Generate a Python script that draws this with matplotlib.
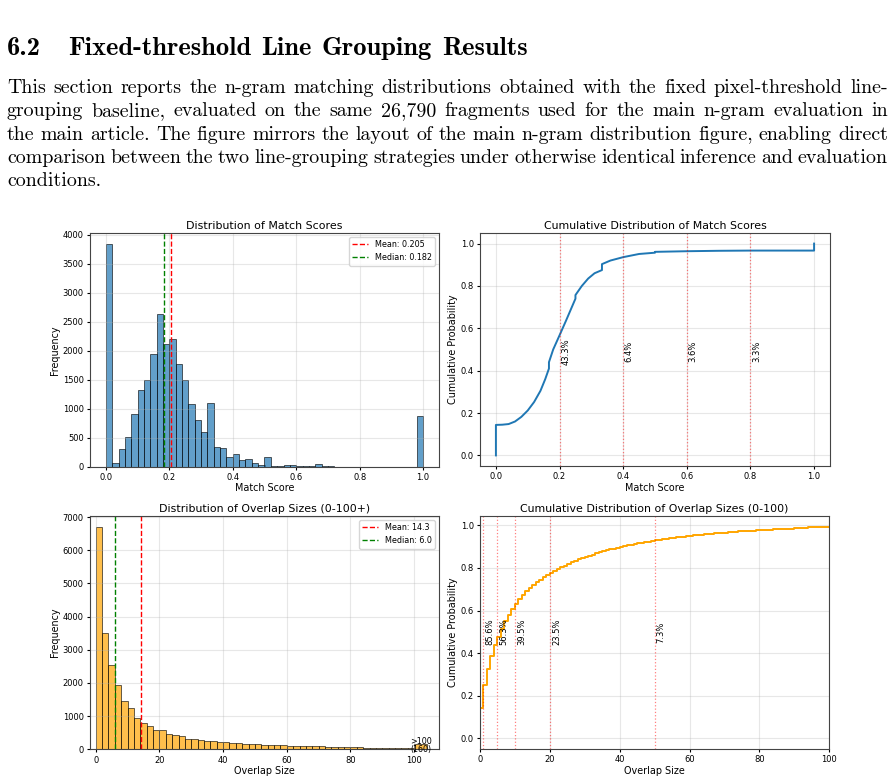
import numpy as np
import matplotlib.pyplot as plt

# page text above the figure
heading_number = '6.2'
heading_text = 'Fixed-threshold Line Grouping Results'
paragraph_lines = [
    'This section reports the n-gram matching distributions obtained with the fixed pixel-threshold line-',
    'grouping baseline, evaluated on the same 26,790 fragments used for the main n-gram evaluation in',
    'the main article. The figure mirrors the layout of the main n-gram distribution figure, enabling direct',
    'comparison between the two line-grouping strategies under otherwise identical inference and evaluation',
    'conditions.',
]

# match score histogram (50 bins of width 0.02 between 0 and 1)
match_counts = [3835, 69, 305, 512, 904, 1318, 1490, 1945, 2636, 2106,
                2204, 1767, 1496, 1082, 806, 604, 1105, 345, 317, 161,
                213, 109, 132, 58, 35, 161, 17, 17, 23, 29,
                17, 6, 6, 50, 5, 4, 3, 3, 2, 3,
                2, 2, 1, 0, 0, 0, 0, 0, 0, 872]
match_mean = 0.205
match_median = 0.182

# cumulative distribution of match scores
match_cdf_x = [0.0, 0.0, 0.02, 0.04, 0.06, 0.08, 0.10, 0.12, 0.14, 0.155, 0.1667, 0.1667,
               0.18, 0.20, 0.22, 0.24, 0.25, 0.25, 0.27, 0.29, 0.31, 0.3333, 0.3333,
               0.36, 0.40, 0.45, 0.50, 0.50, 0.60, 0.70, 0.80, 0.90, 1.0, 1.0]
match_cdf_y = [0.0, 0.144, 0.145, 0.148, 0.160, 0.182, 0.212, 0.252, 0.305, 0.360, 0.410, 0.440,
               0.500, 0.567, 0.635, 0.705, 0.740, 0.757, 0.800, 0.835, 0.860, 0.875, 0.903,
               0.920, 0.936, 0.951, 0.957, 0.961, 0.964, 0.966, 0.967, 0.967, 0.967, 1.0]
match_thresholds = [0.2, 0.4, 0.6, 0.8]
match_threshold_labels = ['43.3%', '6.4%', '3.6%', '3.3%']

# overlap size histogram (bins of width 2 from 0 to 100) + overflow bar
overlap_counts = [6700, 3500, 2528, 1926, 1464, 1234, 943, 792, 702, 592,
                  572, 471, 431, 391, 321, 301, 271, 251, 261, 221,
                  221, 190, 180, 170, 150, 150, 120, 120, 130, 120,
                  100, 100, 90, 90, 90, 85, 80, 70, 70, 70,
                  65, 60, 50, 50, 50, 50, 50, 45, 30, 30]
overlap_over_100 = 160
overlap_mean = 14.3
overlap_median = 6.0

# cumulative distribution of overlap sizes, value for each size 0..100
overlap_sizes = list(range(101))
overlap_cdf = [0.144, 0.252, 0.325, 0.385, 0.437, 0.478, 0.515, 0.549, 0.579, 0.605,
               0.630, 0.652, 0.672, 0.690, 0.706, 0.721, 0.734, 0.745, 0.756, 0.765,
               0.775, 0.785, 0.794, 0.803, 0.811, 0.819, 0.826, 0.833, 0.840, 0.846,
               0.852, 0.858, 0.863, 0.868, 0.873, 0.878, 0.882, 0.887, 0.891, 0.895,
               0.899, 0.902, 0.906, 0.909, 0.912, 0.915, 0.918, 0.921, 0.924, 0.927,
               0.929, 0.932, 0.934, 0.936, 0.939, 0.941, 0.943, 0.945, 0.947, 0.949,
               0.951, 0.953, 0.955, 0.956, 0.958, 0.959, 0.961, 0.962, 0.964, 0.965,
               0.966, 0.968, 0.969, 0.970, 0.971, 0.972, 0.973, 0.974, 0.975, 0.976,
               0.977, 0.978, 0.979, 0.980, 0.981, 0.982, 0.983, 0.983, 0.984, 0.985,
               0.986, 0.987, 0.988, 0.989, 0.990, 0.991, 0.991, 0.992, 0.993, 0.994,
               0.994]
overlap_thresholds = [1, 5, 10, 20, 50]
overlap_threshold_labels = ['85.6%', '56.3%', '39.5%', '23.5%', '7.3%']

W, H = 895, 782
fig = plt.figure(figsize=(W / 100, H / 100), dpi=100)

TITLE = 7.9
LABEL = 6.9
TICK = 6.0
LEG = 5.8


def px_axes(left, top, right, bottom):
    return fig.add_axes([left / W, 1 - bottom / H, (right - left) / W, (bottom - top) / H])


def style(ax, title, xlabel, ylabel):
    ax.set_title(title, fontsize=TITLE, pad=3)
    ax.set_xlabel(xlabel, fontsize=LABEL, labelpad=1)
    ax.set_ylabel(ylabel, fontsize=LABEL, labelpad=2)
    ax.tick_params(labelsize=TICK, length=2.5, pad=2)
    ax.grid(True, alpha=0.3)
    for s in ax.spines.values():
        s.set_color('#444444')


# --- panel 1: match score histogram
ax1 = px_axes(90, 233, 439, 466.7)
match_edges = np.linspace(0, 1, len(match_counts) + 1)
ax1.hist(match_edges[:-1], bins=match_edges, weights=match_counts,
         color='#1f77b4', alpha=0.7, edgecolor='black', linewidth=0.6)
ax1.axvline(match_mean, color='red', linestyle='--', lw=1, label=f'Mean: {match_mean:.3f}')
ax1.axvline(match_median, color='green', linestyle='--', lw=1, label=f'Median: {match_median:.3f}')
ax1.legend(fontsize=LEG, loc='upper right')
style(ax1, 'Distribution of Match Scores', 'Match Score', 'Frequency')

# --- panel 2: match score CDF
ax2 = px_axes(480, 233, 830, 466)
ax2.plot(match_cdf_x, match_cdf_y, color='#1f77b4', lw=1.4)
for t, lab in zip(match_thresholds, match_threshold_labels):
    ax2.axvline(t, color='red', linestyle=':', alpha=0.5, lw=0.9)
    ax2.text(t + 0.005, 0.49, lab, rotation=90, fontsize=TICK, va='center', ha='left')
style(ax2, 'Cumulative Distribution of Match Scores', 'Match Score', 'Cumulative Probability')

# --- panel 3: overlap size histogram
ax3 = px_axes(90, 516, 439, 749.3)
overlap_edges = np.arange(0, 101, 2)
ax3.hist(overlap_edges[:-1], bins=overlap_edges, weights=overlap_counts,
         color='orange', alpha=0.7, edgecolor='black', linewidth=0.6)
ax3.bar(102, overlap_over_100, width=4, color='orange', alpha=0.7,
        edgecolor='black', linewidth=0.6)
ax3.text(102, overlap_over_100 * 0.75, f'>100\n({overlap_over_100})', fontsize=5.8,
         ha='center', va='center', linespacing=0.9, zorder=5)
ax3.axvline(overlap_mean, color='red', linestyle='--', lw=1, label=f'Mean: {overlap_mean:.1f}')
ax3.axvline(overlap_median, color='green', linestyle='--', lw=1, label=f'Median: {overlap_median:.1f}')
ax3.legend(fontsize=LEG, loc='upper right')
ax3.set_xlim(-1.8, 107.8)
style(ax3, 'Distribution of Overlap Sizes (0-100+)', 'Overlap Size', 'Frequency')

# --- panel 4: overlap size CDF
ax4 = px_axes(480, 516, 829.3, 749)
ax4.step([0] + overlap_sizes, [0] + overlap_cdf, where='post', color='orange', lw=1.4)
for t, lab in zip(overlap_thresholds, overlap_threshold_labels):
    ax4.axvline(t, color='red', linestyle=':', alpha=0.5, lw=0.9)
    ax4.text(t + 0.6, 0.5, lab, rotation=90, fontsize=TICK, va='center', ha='left')
ax4.set_xlim(0, 100)
style(ax4, 'Cumulative Distribution of Overlap Sizes (0-100)', 'Overlap Size', 'Cumulative Probability')

# --- page text (justified like LaTeX)
renderer = fig.canvas.get_renderer()


def width_px(t):
    return t.get_window_extent(renderer).width


def words_width(words, family, size=10):
    total = 0
    for w in words:
        t = fig.text(0, 0, w, fontsize=size, family=family)
        total += width_px(t)
        t.remove()
    return total


space10 = 10 * 100 / 72 * 0.333   # interword space of a 10pt font, in pixels

head_words = heading_text.split(' ')
head_size = 10 * 459 / (words_width(head_words, 'cmb10') + space10 * 1.15 * (len(head_words) - 1))
fig.text(7 / W, 1 - 55 / H, heading_number, fontsize=head_size, family='cmb10', va='baseline')
x = 68
for w in head_words:
    t = fig.text(x / W, 1 - 55 / H, w, fontsize=head_size, family='cmb10', va='baseline')
    x += width_px(t) + space10 * 1.15 * head_size / 10

left, right = 7, 888
full_lines = [l.split(' ') for l in paragraph_lines[:-1]]
nat = [words_width(ws, 'cmr10') + space10 * (len(ws) - 1) for ws in full_lines]
# size so the lines need about their natural spacing on average,
# but never squeeze any line below ~half a normal space
para_size = 10 * (right - left) / np.mean(nat)
for ws in full_lines:
    ink10 = words_width(ws, 'cmr10')
    limit = 10 * (right - left) / (ink10 + 0.5 * space10 * (len(ws) - 1))
    para_size = min(para_size, limit)

for i, line in enumerate(paragraph_lines):
    y = 1 - (93 + 23.3 * i) / H
    words = line.split(' ')
    texts = [fig.text(0, y, w, fontsize=para_size, family='cmr10', va='baseline') for w in words]
    widths = [width_px(t) for t in texts]
    if i < len(paragraph_lines) - 1:
        gap = (right - left - sum(widths)) / (len(words) - 1)
    else:
        gap = space10 * para_size / 10
    x = left
    for t, w in zip(texts, widths):
        t.set_x(x / W)
        x += w + gap

fig.savefig('out.png', dpi=100)
